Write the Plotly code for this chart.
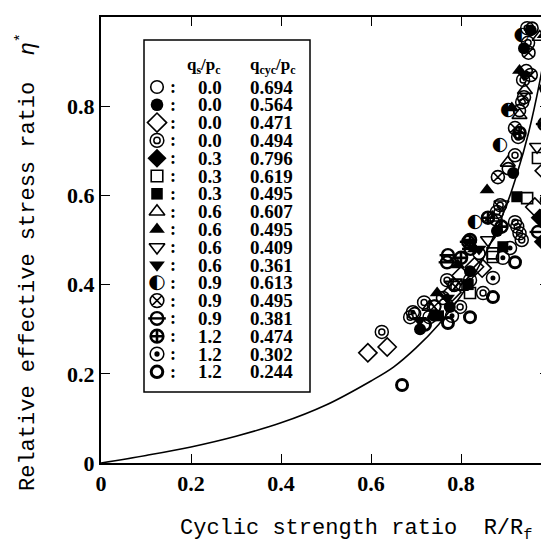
import plotly.graph_objects as go

# ---------------- data ----------------
qs_labels = ["0.0", "0.0", "0.0", "0.0", "0.3", "0.3", "0.3", "0.6", "0.6",
             "0.6", "0.6", "0.9", "0.9", "0.9", "1.2", "1.2", "1.2"]
qcyc_labels = ["0.694", "0.564", "0.471", "0.494", "0.796", "0.619", "0.495",
               "0.607", "0.495", "0.409", "0.361", "0.613", "0.495", "0.381",
               "0.474", "0.302", "0.244"]

s01_x = [0.697, 0.742, 0.785, 0.84, 0.878, 0.905, 0.93, 0.945, 0.99, 0.958]
s01_y = [0.335, 0.352, 0.398, 0.47, 0.545, 0.66, 0.79, 0.88, 0.59, 0.975]
s02_x = [0.709, 0.74, 0.775, 0.82, 0.916, 0.955, 0.94, 0.88]
s02_y = [0.30, 0.33, 0.35, 0.43, 0.65, 0.97, 0.93, 0.52]
s03_x = [0.593, 0.636, 0.78, 0.847, 0.964, 0.985, 0.80, 0.83]
s03_y = [0.247, 0.26, 0.383, 0.437, 0.574, 0.655, 0.42, 0.44]
s04_x = [0.624, 0.687, 0.718, 0.769, 0.798, 0.849, 0.887, 0.88, 0.92, 0.925,
         0.93, 0.935, 0.938, 0.936, 0.927, 0.947, 0.949, 0.92]
s04_y = [0.294, 0.327, 0.36, 0.41, 0.35, 0.381, 0.578, 0.563, 0.54, 0.53,
         0.515, 0.50, 0.859, 0.809, 0.731, 0.975, 0.942, 0.69]
s05_x = [0.982, 0.99, 0.975]
s05_y = [0.496, 0.76, 0.55]
s06_x = [0.82, 0.871, 0.947, 0.971, 0.87, 0.79]
s06_y = [0.381, 0.462, 0.594, 0.684, 0.47, 0.40]
s07_x = [0.816, 0.893, 0.924, 0.99, 0.75]
s07_y = [0.40, 0.485, 0.597, 0.76, 0.33]
s08_x = [0.73, 0.80, 0.904, 0.942, 0.975, 0.93, 0.87]
s08_y = [0.35, 0.395, 0.673, 0.836, 0.955, 0.78, 0.55]
s09_x = [0.747, 0.793, 0.858, 0.913, 0.93, 0.985, 0.83]
s09_y = [0.381, 0.444, 0.612, 0.796, 0.88, 0.96, 0.48]
s10_x = [0.969, 0.78, 0.86, 0.89]
s10_y = [0.709, 0.40, 0.50, 0.58]
s11_x = [0.708, 0.77, 0.84, 0.94]
s11_y = [0.32, 0.37, 0.48, 0.87]
s12_x = [0.831, 0.887, 0.905, 0.935]
s12_y = [0.54, 0.713, 0.79, 0.96]
s13_x = [0.882, 0.92, 0.95, 0.955, 0.94, 0.76, 0.74]
s13_y = [0.641, 0.751, 0.92, 0.87, 0.82, 0.37, 0.35]
s14_x = [0.816, 0.821, 0.771, 0.769, 0.971, 0.99, 0.985]
s14_y = [0.496, 0.48, 0.466, 0.45, 0.518, 0.84, 0.76]
s15_x = [0.82, 0.89, 0.93, 0.86, 0.80]
s15_y = [0.50, 0.53, 0.74, 0.55, 0.46]
s16_x = [0.693, 0.73, 0.871, 0.909, 0.893, 0.82, 0.78]
s16_y = [0.338, 0.327, 0.415, 0.482, 0.46, 0.41, 0.33]
s17_x = [0.669, 0.771, 0.82, 0.871, 0.92, 0.72]
s17_y = [0.175, 0.314, 0.327, 0.372, 0.45, 0.31]

curve_x = [0.0, 0.1, 0.2, 0.3, 0.4, 0.5, 0.6, 0.65, 0.7, 0.75, 0.8, 0.85,
           0.9, 0.925, 0.95, 0.975, 1.0]
curve_y = [0.0, 0.017, 0.036, 0.06, 0.09, 0.13, 0.184, 0.215, 0.258, 0.31, 0.375,
           0.46, 0.575, 0.65, 0.74, 0.855, 1.0]

x_tickvals = [0, 0.2, 0.4, 0.6, 0.8]
x_ticktext = ["0", "0.2", "0.4", "0.6", "0.8"]
y_tickvals = [0, 0.2, 0.4, 0.6, 0.8, 1.0]
y_ticktext = ["0", "0.2", "0.4", "0.6", "0.8", "1"]

series_x = [s01_x, s02_x, s03_x, s04_x, s05_x, s06_x, s07_x, s08_x, s09_x,
            s10_x, s11_x, s12_x, s13_x, s14_x, s15_x, s16_x, s17_x]
series_y = [s01_y, s02_y, s03_y, s04_y, s05_y, s06_y, s07_y, s08_y, s09_y,
            s10_y, s11_y, s12_y, s13_y, s14_y, s15_y, s16_y, s17_y]

# ---------------- styles ----------------
K = "black"
styles = [
    [dict(symbol="circle-open", size=12, lw=1.6)],
    [dict(symbol="circle", size=12, lw=0)],
    [dict(symbol="diamond-open", size=14, lw=1.6)],
    [dict(symbol="circle-open", size=13, lw=1.5), dict(symbol="circle-open", size=6, lw=1.5)],
    [dict(symbol="diamond", size=14, lw=0)],
    [dict(symbol="square-open", size=11, lw=1.6)],
    [dict(symbol="square", size=11, lw=0)],
    [dict(symbol="triangle-up-open", size=13, lw=1.6)],
    [dict(symbol="triangle-up", size=13, lw=0)],
    [dict(symbol="triangle-down-open", size=13, lw=1.6)],
    [dict(symbol="triangle-down", size=13, lw=0)],
    "half",
    [dict(symbol="circle-x-open", size=13, lw=1.6)],
    [dict(symbol="circle-open", size=12, lw=2.4), dict(symbol="line-ew-open", size=12, lw=2.4)],
    [dict(symbol="circle-cross-open", size=12, lw=2.6)],
    [dict(symbol="circle-open", size=13, lw=1.5), dict(symbol="circle", size=5, lw=0)],
    [dict(symbol="circle-open", size=11, lw=3)],
]

fig = go.Figure()


def add_marks(xs, ys, style, xaxis="x", yaxis="y", scale=1.0):
    if style == "half":
        fig.add_trace(go.Scatter(
            x=xs, y=ys, mode="text", text=["\u25d0"] * len(xs),
            textposition="middle center",
            textfont=dict(family="DejaVu Sans", size=19 * scale, color=K),
            xaxis=xaxis, yaxis=yaxis, showlegend=False, hoverinfo="skip"))
        return
    for layer in style:
        fig.add_trace(go.Scatter(
            x=xs, y=ys, mode="markers",
            marker=dict(symbol=layer["symbol"], size=layer["size"] * scale, color=K,
                        line=dict(color=K, width=layer["lw"])),
            xaxis=xaxis, yaxis=yaxis, showlegend=False, hoverinfo="skip"))


# fitted curve
fig.add_trace(go.Scatter(x=curve_x, y=curve_y, mode="lines",
                         line=dict(color=K, width=1.6, shape="spline", smoothing=1.0),
                         showlegend=False, hoverinfo="skip"))

for sx, sy, st in zip(series_x, series_y, styles):
    add_marks(sx, sy, st)

# ---------------- geometry (screen pixels; page body has an 8px margin) ----------------
BODY = 8
W = H = 549 - BODY
PL, PR, PT, PB = 101, 549, 17, 463      # plot area edges on screen (right edge cut)
L = PL - BODY
T = PT - BODY
B = H - (PB - BODY)
R = 0
plot_w = PR - PL


def px(sx):
    return (sx - PL) / plot_w


def py(sy):
    return (PB - sy) / (PB - PT)


row0, row_step = 87, 17.8
sym_x, colon_x, qs_x, qc_x = 157, 173, 210, 271

annotations = []


def note(**kw):
    kw.setdefault("showarrow", False)
    kw.setdefault("xanchor", "center")
    kw.setdefault("yanchor", "middle")
    annotations.append(kw)


for i, st in enumerate(styles):
    ry = row0 + row_step * i
    add_marks([sym_x], [ry], st, xaxis="x2", yaxis="y2", scale=1.05)
    note(x=colon_x, y=ry, xref="x2", yref="y2", text="<b>:</b>",
         font=dict(family="Liberation Serif", size=18, color=K))
    note(x=qs_x, y=ry, xref="x2", yref="y2", text="<b>%s</b>" % qs_labels[i],
         font=dict(family="Liberation Serif", size=19, color=K))
    note(x=qc_x, y=ry, xref="x2", yref="y2", text="<b>%s</b>" % qcyc_labels[i],
         font=dict(family="Liberation Serif", size=19, color=K))

note(x=204, y=66, xref="x2", yref="y2", text="<b>q<sub>s</sub>/p<sub>c</sub></b>",
     font=dict(family="Liberation Serif", size=17, color=K))
note(x=272, y=66, xref="x2", yref="y2", text="<b>q<sub>cyc</sub>/p<sub>c</sub></b>",
     font=dict(family="Liberation Serif", size=17, color=K))

# axis titles (paper coordinates)
note(x=px(27), y=py(262), xref="paper", yref="paper", textangle=-90,
     text="Relative effective stress ratio\u00a0\u00a0<i>\u03b7</i><sup>*</sup>",
     font=dict(family="Liberation Mono", size=22, color=K))
note(x=px(356), y=py(530), xref="paper", yref="paper",
     text="Cyclic strength ratio\u00a0\u00a0R/R<sub>f</sub>",
     font=dict(family="Liberation Mono", size=22, color=K))
# partly visible tick label "1" at the cut right edge
note(x=px(551), y=py(478), xref="paper", yref="paper", text="<b>1</b>",
     font=dict(family="Liberation Serif", size=22, color=K))

shapes = [dict(type="rect", xref="x2", yref="y2", x0=144, x1=310, y0=40, y1=392,
               line=dict(color=K, width=1.5), fillcolor="rgba(0,0,0,0)", layer="below")]

fig.update_layout(
    width=W, height=H,
    margin=dict(l=L, r=R, t=T, b=B, pad=0),
    paper_bgcolor="white", plot_bgcolor="white",
    showlegend=False,
    annotations=annotations,
    shapes=shapes,
    xaxis=dict(range=[0, plot_w / 450.0], tickvals=x_tickvals, ticktext=x_ticktext,
               ticks="inside", ticklen=9, tickwidth=1.3, tickcolor=K,
               showline=True, linecolor=K, linewidth=2, mirror="ticks",
               showgrid=False, zeroline=False, automargin=False,
               tickfont=dict(family="Liberation Serif", size=22, color=K, weight="bold")),
    yaxis=dict(range=[0, 1.0], tickvals=y_tickvals, ticktext=y_ticktext,
               ticks="inside", ticklen=9, tickwidth=1.3, tickcolor=K,
               showline=True, linecolor=K, linewidth=2, mirror="ticks",
               showgrid=False, zeroline=False, automargin=False,
               tickfont=dict(family="Liberation Serif", size=22, color=K, weight="bold")),
    xaxis2=dict(range=[PL, PR], overlaying="x", anchor="y2", visible=False,
                showgrid=False, zeroline=False),
    yaxis2=dict(range=[PB, PT], overlaying="y", anchor="x2", visible=False,
                showgrid=False, zeroline=False),
)

fig.write_html("out.html")
